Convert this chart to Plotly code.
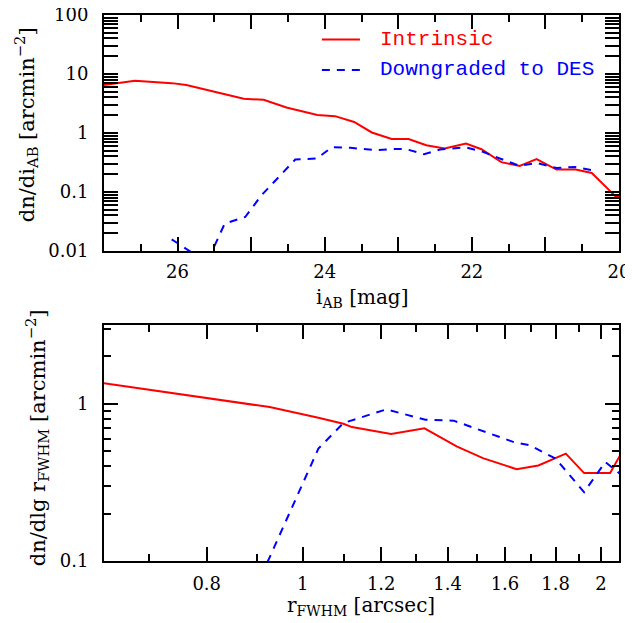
import plotly.graph_objects as go

# ---- Top panel: number counts vs i-band magnitude ----
mag_intrinsic = [27.0, 26.58, 26.08, 25.88, 25.47, 25.1, 24.83, 24.52, 24.1, 23.86,
                 23.6, 23.36, 23.09, 22.86, 22.62, 22.37, 22.08, 21.87, 21.6, 21.35,
                 21.12, 20.85, 20.59, 20.37, 20.03, 19.9]
dn_intrinsic = [6.5, 7.7, 7.0, 6.5, 4.9, 3.8, 3.65, 2.7, 2.02, 1.93,
                1.54, 1.02, 0.79, 0.79, 0.62, 0.545, 0.665, 0.53, 0.32, 0.277,
                0.36, 0.24, 0.24, 0.21, 0.080, 0.117]

mag_des = [26.08, 25.6, 25.36, 25.08, 24.86, 24.4, 24.11, 23.9, 23.65, 23.3,
           23.02, 22.89, 22.65, 22.43, 22.08, 21.85, 21.62, 21.35, 21.12, 20.85,
           20.6, 20.37]
dn_des = [0.0157, 0.0064, 0.029, 0.0377, 0.088, 0.355, 0.37, 0.574, 0.56, 0.51,
          0.537, 0.53, 0.437, 0.525, 0.57, 0.48, 0.37, 0.277, 0.31, 0.256,
          0.266, 0.234]

# ---- Bottom panel: counts vs FWHM size ----
r_intrinsic = [0.630, 0.787, 0.926, 1.037, 1.099, 1.121, 1.228, 1.327, 1.43, 1.52,
               1.644, 1.729, 1.843, 1.923, 2.043, 2.16]
dr_intrinsic = [1.35, 1.10, 0.951, 0.815, 0.746, 0.71, 0.641, 0.697, 0.536, 0.451,
                0.383, 0.405, 0.481, 0.362, 0.362, 0.68]

r_des = [0.87, 1.037, 1.099, 1.214, 1.33, 1.42, 1.53, 1.633, 1.697, 1.80,
         1.923, 2.02, 2.1]
dr_des = [0.044, 0.518, 0.753, 0.92, 0.791, 0.78, 0.66, 0.57, 0.543, 0.447,
          0.274, 0.426, 0.35]

# ---- Tick labels ----
top_x_labeled = [26, 24, 22, 20]
top_x_text = ["26", "24", "22", "20"]
top_x_unlabeled = [27, 25, 23, 21]
top_x_minor = [26.5, 25.5, 24.5, 23.5, 22.5, 21.5, 20.5]
top_y_major = [0.01, 0.1, 1, 10, 100]
top_y_text = ["0.01", "0.1", "1", "10", "100"]
bot_x_major = [0.8, 1.0, 1.2, 1.4, 1.6, 1.8, 2.0]
bot_x_text = ["0.8", "1", "1.2", "1.4", "1.6", "1.8", "2"]
bot_x_minor = [0.7, 0.9, 1.1, 1.3, 1.5, 1.7, 1.9]
bot_y_major = [0.1, 1]
bot_y_text = ["0.1", "1"]
mults = [2, 3, 4, 5, 6, 7, 8, 9]
top_y_minor = [m * d for d in [0.01, 0.1, 1, 10] for m in mults]
bot_y_minor = [m * d for d in [0.1, 1] for m in mults]

RED = "#ff0000"
BLUE = "#0000ff"
SERIF = "DejaVu Serif"
MONO = "Liberation Mono"
DASH = "8px,7px"

fig = go.Figure()
fig.add_trace(go.Scatter(x=mag_intrinsic, y=dn_intrinsic, mode="lines",
                         line=dict(color=RED, width=2), xaxis="x", yaxis="y",
                         showlegend=False))
fig.add_trace(go.Scatter(x=mag_des, y=dn_des, mode="lines",
                         line=dict(color=BLUE, width=2, dash=DASH),
                         xaxis="x", yaxis="y", showlegend=False))
fig.add_trace(go.Scatter(x=r_intrinsic, y=dr_intrinsic, mode="lines",
                         line=dict(color=RED, width=2), xaxis="x2", yaxis="y2",
                         showlegend=False))
fig.add_trace(go.Scatter(x=r_des, y=dr_des, mode="lines",
                         line=dict(color=BLUE, width=2, dash=DASH),
                         xaxis="x2", yaxis="y2", showlegend=False))
# invisible helper trace so the overlay axis carrying the unlabeled major ticks is drawn
fig.add_trace(go.Scatter(x=[mag_intrinsic[0]], y=[dn_intrinsic[0]], mode="lines",
                         xaxis="x3", yaxis="y", showlegend=False, hoverinfo="skip",
                         line=dict(width=0), opacity=0))

common = dict(showline=True, linewidth=2, linecolor="black", mirror="allticks",
              ticks="inside", ticklen=14, tickwidth=1.5, tickcolor="black",
              showgrid=False, zeroline=False, ticklabeloverflow="allow",
              automargin=False,
              tickfont=dict(family=SERIF, size=18, color="black"))
minor_common = dict(ticks="inside", ticklen=7, tickwidth=1.5, tickcolor="black",
                    showgrid=False, tickmode="array")

TOP_DOM = [0.5678, 1]
BOT_DOM = [0, 0.4322]

fig.update_layout(
    width=625, height=615,
    margin=dict(l=96, r=14, t=7, b=62, autoexpand=False),
    paper_bgcolor="white", plot_bgcolor="white",
    xaxis=dict(domain=[0, 1], anchor="y", range=[27, 20], tickmode="array",
               tickvals=top_x_labeled, ticktext=top_x_text,
               minor=dict(tickvals=top_x_minor, **minor_common),
               ticklabelstandoff=3, **common),
    xaxis3=dict(domain=[0, 1], anchor="y", overlaying="x", range=[27, 20],
                tickmode="array", tickvals=top_x_unlabeled, showticklabels=False,
                showline=False, mirror="allticks", ticks="inside", ticklen=14,
                tickwidth=1.5, tickcolor="black", showgrid=False, zeroline=False,
                automargin=False),
    yaxis=dict(domain=TOP_DOM, anchor="x", type="log", range=[-2, 2],
               tickmode="array", tickvals=top_y_major, ticktext=top_y_text,
               minor=dict(tickvals=top_y_minor, **minor_common),
               ticklabelstandoff=10, **common),
    xaxis2=dict(domain=[0, 1], anchor="y2", type="log", range=[-0.2006, 0.3192],
                tickmode="array", tickvals=bot_x_major, ticktext=bot_x_text,
                minor=dict(tickvals=bot_x_minor, **minor_common),
                ticklabelstandoff=5, **common),
    yaxis2=dict(domain=BOT_DOM, anchor="x2", type="log", range=[-1, 0.5],
                tickmode="array", tickvals=bot_y_major, ticktext=bot_y_text,
                minor=dict(tickvals=bot_y_minor, **minor_common),
                ticklabelstandoff=10, **common),
)

title_font = dict(family=SERIF, size=20, color="black")
annotations = [
    dict(text="i<sub>AB</sub> [mag]", x=0.501, y=0.4817, xref="paper", yref="paper",
         showarrow=False, xanchor="center", yanchor="middle", font=title_font),
    dict(text="dn/di<sub>AB</sub> [arcmin<sup>−2</sup>]", x=-0.1515, y=0.800,
         xref="paper", yref="paper", showarrow=False, textangle=-90,
         xanchor="center", yanchor="middle",
         font=dict(family=SERIF, size=21, color="black")),
    dict(text="r<sub>FWHM</sub> [arcsec]", x=0.499, y=-0.082, xref="paper", yref="paper",
         showarrow=False, xanchor="center", yanchor="middle", font=title_font),
    dict(text="dn/dlg r<sub>FWHM</sub> [arcmin<sup>−2</sup>]", x=-0.130, y=0.225,
         xref="paper", yref="paper", showarrow=False, textangle=-90,
         xanchor="center", yanchor="middle",
         font=dict(family=SERIF, size=21, color="black")),
    dict(text="Intrinsic", x=0.532, y=0.896, xref="x domain", yref="y domain",
         showarrow=False, xanchor="left", yanchor="middle",
         font=dict(family=MONO, size=21, color=RED)),
    dict(text="Downgraded to DES", x=0.532, y=0.770, xref="x domain", yref="y domain",
         showarrow=False, xanchor="left", yanchor="middle",
         font=dict(family=MONO, size=21, color=BLUE)),
]
fig.update_layout(annotations=annotations)

fig.add_shape(type="line", xref="x domain", yref="y domain", x0=0.423, x1=0.497,
              y0=0.896, y1=0.896, line=dict(color=RED, width=2))
fig.add_shape(type="line", xref="x domain", yref="y domain", x0=0.423, x1=0.497,
              y0=0.767, y1=0.767, line=dict(color=BLUE, width=2, dash=DASH))

fig.write_html("out.html")
